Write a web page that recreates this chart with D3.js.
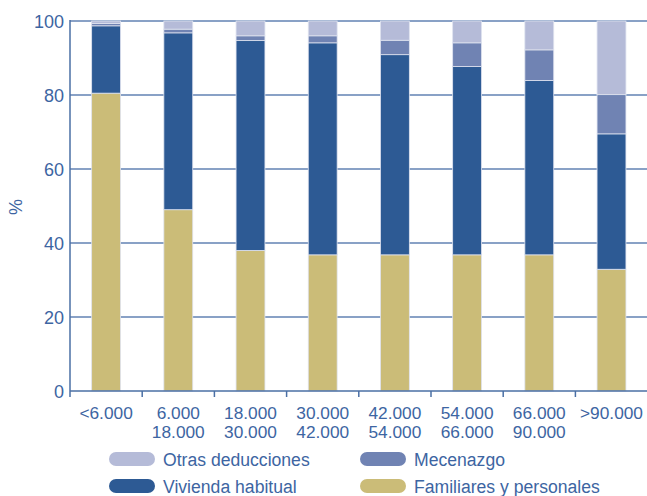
<!DOCTYPE html>
<html><head><meta charset="utf-8">
<script src="https://cdn.jsdelivr.net/npm/d3@7"></script>
<style>body{margin:0;background:#fff;} text{font-family:"Liberation Sans",Arial,sans-serif;}</style>
</head><body><svg id="c" width="647" height="496"></svg>
<script>
const categories = [["<6.000"],["6.000","18.000"],["18.000","30.000"],["30.000","42.000"],["42.000","54.000"],["54.000","66.000"],["66.000","90.000"],[">90.000"]];
const familiares = [80.5, 49.0, 38.0, 36.8, 36.8, 36.8, 36.8, 32.9];
const vivienda   = [18.2, 47.8, 56.7, 57.3, 54.1, 50.9, 47.1, 36.6];
const mecenazgo  = [0.6, 1.0, 1.3, 1.9, 3.9, 6.4, 8.3, 10.6];
const otras      = [0.7, 2.2, 4.0, 4.0, 5.2, 5.9, 7.8, 19.9];
const yTicks = [0, 20, 40, 60, 80, 100];
const seriesNames = ["Familiares y personales","Vivienda habitual","Mecenazgo","Otras deducciones"];
const colors = ["#cbbc78","#2d5a94","#7083b3","#b5bbd8"];

const txt = "#3d65a2", axisCol = "#4a6fa5", gridCol = "#6282b3";
const svg = d3.select("#c");
const x = d3.scaleBand().domain(d3.range(categories.length)).range([70, 647.6]).paddingInner(0.6).paddingOuter(0.3);
const xb = d3.scaleLinear().domain([0, categories.length]).range([70, 647.6]);
const y = d3.scaleLinear().domain([0, 100]).range([391, 21]);

// gridlines
svg.append("g").selectAll("line").data(yTicks.filter(d=>d>0)).join("line")
  .attr("x1", 70).attr("x2", 647).attr("y1", d=>y(d)).attr("y2", d=>y(d))
  .attr("stroke", gridCol).attr("stroke-width", 1.5);

// stacked data
const rows = categories.map((c,i)=>({i, a:familiares[i], b:vivienda[i], c:mecenazgo[i], d:otras[i]}));
const stack = d3.stack().keys(["a","b","c","d"])(rows);
svg.append("g").selectAll("g").data(stack).join("g").attr("fill",(d,i)=>colors[i])
  .selectAll("rect").data(d=>d).join("rect")
  .attr("x", d=>x(d.data.i)).attr("width", x.bandwidth())
  .attr("y", d=>y(d[1])).attr("height", d=>y(d[0])-y(d[1]))
  .attr("stroke", "#dfe3ef").attr("stroke-width", 0.8);

// axes
svg.append("line").attr("x1",70).attr("x2",70).attr("y1",20).attr("y2",397).attr("stroke",axisCol).attr("stroke-width",1.5);
svg.append("line").attr("x1",70).attr("x2",647).attr("y1",391).attr("y2",391).attr("stroke",axisCol).attr("stroke-width",1.5);
svg.append("g").selectAll("text").data(yTicks).join("text")
  .attr("x", 64).attr("y", d=>y(d)+6.5).attr("text-anchor","end")
  .attr("fill", txt).attr("font-size", 18).text(d=>d);
svg.append("g").selectAll("line").data(d3.range(1, categories.length)).join("line")
  .attr("x1", d=>xb(d)).attr("x2", d=>xb(d)).attr("y1", 391).attr("y2", 397)
  .attr("stroke", axisCol).attr("stroke-width", 1.5);
// x labels (one text per line)
const xl = svg.append("g");
categories.forEach((lines,i)=>{
  lines.forEach((s,j)=>{
    xl.append("text").attr("x", x(i)+x.bandwidth()/2).attr("y", 418.5 + j*19.3)
      .attr("text-anchor","middle").attr("fill", txt).attr("font-size", 17.3).text(s);
  });
});

// y title
svg.append("text").attr("transform","translate(22,207) rotate(-90)").attr("text-anchor","middle")
  .attr("fill", txt).attr("font-size", 18).text("%");

// legend
const legend = [
  {name: seriesNames[3], col: colors[3], x: 109, y: 452},
  {name: seriesNames[2], col: colors[2], x: 360, y: 452},
  {name: seriesNames[1], col: colors[1], x: 109, y: 479},
  {name: seriesNames[0], col: colors[0], x: 360, y: 479}
];
const lg = svg.append("g").selectAll("g").data(legend).join("g");
lg.append("rect").attr("x", d=>d.x).attr("y", d=>d.y).attr("width", 46).attr("height", 14)
  .attr("rx", 7).attr("fill", d=>d.col);
lg.append("text").attr("x", d=>d.x+54).attr("y", d=>d.y+13.5).attr("fill", txt).attr("font-size", 17.6).text(d=>d.name);
</script></body></html>
